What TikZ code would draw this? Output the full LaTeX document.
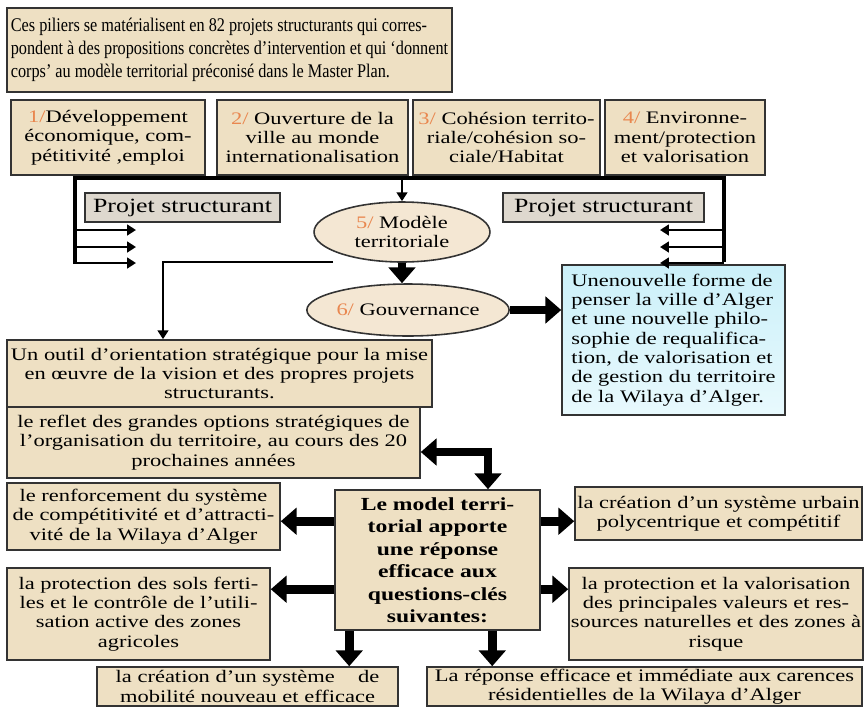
\documentclass[tikz,border=0pt]{standalone}
\usepackage{fontspec}
\setmainfont{Liberation Serif}
\newfontfamily\etire[FakeStretch=1.28]{Liberation Serif}
\newfontfamily\serre[FakeStretch=0.84]{Liberation Serif}
\usetikzlibrary{arrows.meta,calc,positioning,shapes.geometric}

\definecolor{parch}{HTML}{EEE0C3}
\definecolor{ovalfill}{HTML}{F4E7D3}
\definecolor{projfill}{HTML}{DED8CE}
\definecolor{bleuhaut}{HTML}{CBF0F9}
\definecolor{bleubas}{HTML}{E8F9FD}
\definecolor{numero}{HTML}{E9874F}
\definecolor{bord}{HTML}{333333}

\newcommand{\num}[1]{\textcolor{numero}{#1}}

\begin{document}
\begin{tikzpicture}[x=0.02cm, y=-0.02cm,
    boite/.style={draw=bord, line width=0.9pt, fill=parch, inner sep=1pt,
        align=center, font=\etire\fontsize{10}{11}\selectfont},
    projet/.style={draw=bord, line width=0.9pt, fill=projfill, inner sep=1pt,
        font=\etire\fontsize{11.5}{12}\selectfont},
    ovale/.style={ellipse, draw=bord, line width=0.9pt, fill=ovalfill, inner sep=0pt,
        align=center, font=\etire\fontsize{10}{11}\selectfont},
    barre/.style={line width=2.2pt, line join=miter},
    fine/.style={line width=1.5pt, -{Triangle[length=5pt,width=6pt]}},
    grosse/.style={line width=5pt, -{Triangle[length=9pt,width=15pt]}}]

            \useasboundingbox (0,0) rectangle (867,711);

            % Cadre du haut
            \node[boite, align=left, minimum width=8.9cm, minimum height=1.68cm,
                font=\serre\fontsize{11}{13}\selectfont] (intro) at (229.5,50)
                {Ces piliers se matérialisent en 82 projets structurants qui corres-\\
                 pondent à des propositions concrètes d’intervention et qui ‘donnent\\
                 corps’ au modèle territorial préconisé dans le Master Plan.};

            % Les quatre piliers
            \node[boite, minimum width=3.88cm, minimum height=1.5cm] (p1) at (108,137.5)
                {\num{1/}Développement\\économique, com-\\pétitivité ,emploi};
            \node[boite, minimum width=3.82cm, minimum height=1.5cm] (p2) at (312.5,137.5)
                {\num{2/} Ouverture de la\\ville au monde\\internationalisation};
            \node[boite, minimum width=3.74cm, minimum height=1.5cm] (p3) at (506.5,137.5)
                {\num{3/} Cohésion territo-\\riale/cohésion so-\\ciale/Habitat};
            \node[boite, minimum width=3.2cm, minimum height=1.5cm] (p4) at (685,137.5)
                {\num{4/} Environne-\\ment/protection\\et valorisation};

            \node[projet, minimum width=3.9cm, minimum height=0.58cm] (projG) at (182.5,207.5) {Projet structurant};
            \node[projet, minimum width=4.02cm, minimum height=0.58cm] (projD) at (603.5,207.5) {Projet structurant};

            % Modèle et gouvernance
            \node[ovale, minimum width=3.52cm, minimum height=1.2cm] (mod) at (402,232)
                {\num{5/} Modèle\\territoriale};
            \node[ovale, minimum width=3.6cm, minimum height=1.04cm] (gouv) at (408,310)
                {\num{6/} Gouvernance};

            \node[boite, top color=bleuhaut, bottom color=bleubas, align=left,
                minimum width=4.46cm, minimum height=3cm] (vision) at (673.5,340)
                {Unenouvelle forme de\\penser la ville d’Alger\\et une nouvelle philo-\\sophie de requalifica-\\tion, de valorisation et\\de gestion du territoire\\de la Wilaya d’Alger.};

            \node[boite, minimum width=8.5cm, minimum height=1.34cm] (outil) at (219.5,373.5)
                {Un outil d’orientation stratégique pour la mise\\en œuvre de la vision et des propres projets\\structurants.};
            \node[boite, minimum width=8.26cm, minimum height=1.42cm] (reflet) at (213.5,442.5)
                {le reflet des grandes options stratégiques de\\l’organisation du territoire, au cours des 20\\prochaines années};

            % Le modèle territorial et ses réponses
            \node[boite, minimum width=4.1cm, minimum height=2.8cm,
                font=\etire\bfseries\fontsize{10.5}{12.8}\selectfont] (model) at (437.5,560)
                {Le model terri-\\torial apporte\\une réponse\\efficace aux\\questions-clés\\suivantes:};

            \node[boite, minimum width=5.46cm, minimum height=1.34cm] (renf) at (143.5,516.5)
                {le renforcement du système\\de compétitivité et d’attracti-\\vité de la Wilaya d’Alger};
            \node[boite, minimum width=5.26cm, minimum height=1.84cm] (sols) at (138.5,614)
                {la protection des sols ferti-\\les et le contrôle de l’utili-\\sation active des zones\\agricoles};
            \node[boite, minimum width=5.74cm, minimum height=1.06cm] (urbain) at (718.5,513.5)
                {la création d’un système urbain\\polycentrique et compétitif};
            \node[boite, minimum width=5.84cm, minimum height=1.84cm] (valor) at (716,614)
                {la protection et la valorisation\\des principales valeurs et res-\\sources naturelles et des zones à\\risque};
            \node[boite, minimum width=6.02cm, minimum height=0.78cm] (mobil) at (247.5,686.5)
                {la création d’un système \quad de\\mobilité nouveau et efficace};
            \node[boite, minimum width=8.7cm, minimum height=0.78cm] (carence) at (644.5,686.5)
                {La réponse efficace et immédiate aux carences\\résidentielles de la Wilaya d’Alger};

            % Barre de distribution sous les piliers
            \coordinate (barG) at (75,178);
            \coordinate (barD) at (724,178);
            \coordinate (piedG) at (75,264);
            \coordinate (piedD) at (724,262);
            \draw[barre] (piedG) -- (barG) -- (barD) -- (piedD);
            \draw[fine] (mod.north |- barG) -- (mod.north);

            % Petites flèches vers les projets structurants
            \foreach \y [count=\k] in {230,247,263} {
                \coordinate (ga\k) at (75,\y);
                \coordinate (gb\k) at (136,\y);
                \coordinate (da\k) at (724,\y);
                \coordinate (db\k) at (660,\y);
                \draw[fine] (ga\k) -- (gb\k);
                \draw[fine] (da\k) -- (db\k);
            }

            % Liaisons du modèle
            \draw[grosse] (mod.south) -- (mod.south |- gouv.north);
            \draw[grosse] (gouv.east) -- (vision.west |- gouv.east);
            \coordinate (depart) at (333,262);
            \coordinate (coude) at (163,262);
            \draw[fine] (depart) -- (coude) -- (coude |- outil.north);

            % Flèche coudée vers le reflet et le modèle
            \coordinate (angle) at (488,452);
            \draw[line width=5pt, line join=miter, {Triangle[length=9pt,width=15pt]}-{Triangle[length=9pt,width=15pt]}]
                (reflet.east |- angle) -- (angle) -- (angle |- model.north);

            % Flèches de réponse
            \coordinate (g1) at ($(model.north west)+(0,32)$);
            \coordinate (g2) at ($(model.north west)+(0,100)$);
            \coordinate (d1) at ($(model.north east)+(0,32)$);
            \coordinate (d2) at ($(model.north east)+(0,100)$);
            \coordinate (b1) at ($(model.south west)+(15,0)$);
            \coordinate (b2) at ($(model.south west)+(158,0)$);
            \draw[grosse] (g1) -- (g1 -| renf.east);
            \draw[grosse] (g2) -- (g2 -| sols.east);
            \draw[grosse] (d1) -- (d1 -| urbain.west);
            \draw[grosse] (d2) -- (d2 -| valor.west);
            \draw[grosse] (b1) -- (b1 |- mobil.north);
            \draw[grosse] (b2) -- (b2 |- carence.north);

\end{tikzpicture}
\end{document}
